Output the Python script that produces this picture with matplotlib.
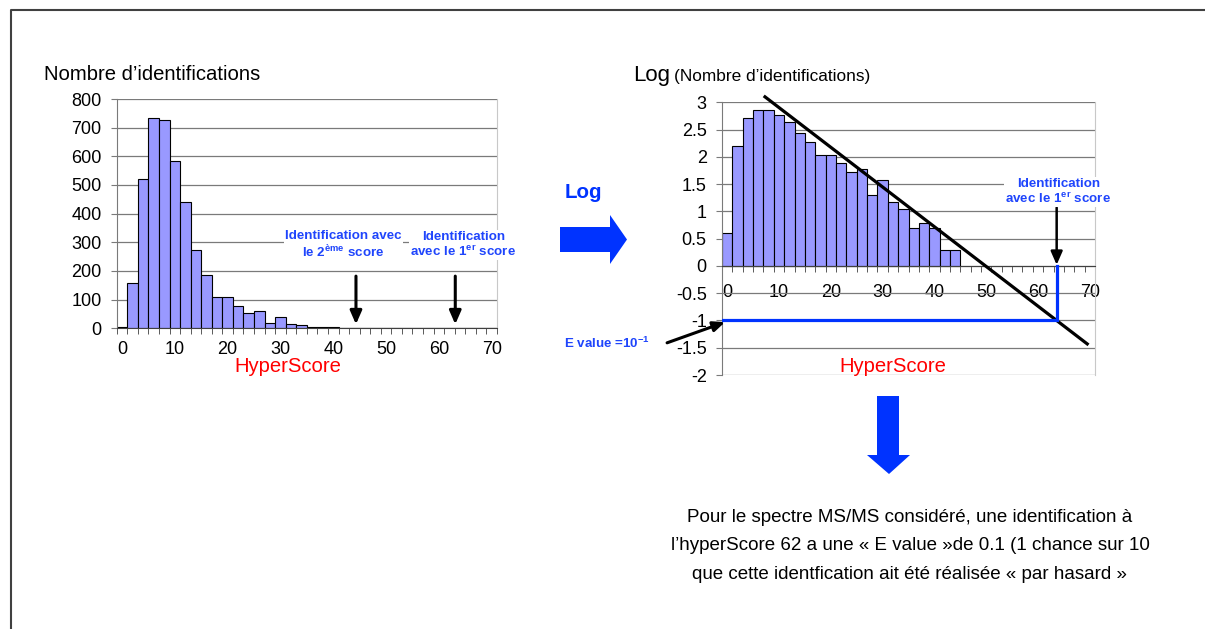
import numpy as np
import matplotlib
matplotlib.use("Agg")
import matplotlib.pyplot as plt
from matplotlib.patches import Polygon

plt.rcParams["font.family"] = ["Liberation Sans", "DejaVu Sans"]
plt.rcParams["mathtext.fontset"] = "custom"
plt.rcParams["mathtext.rm"] = "Liberation Sans"
plt.rcParams["mathtext.bf"] = "Liberation Sans:bold"

# histogram of hyperscores, bins of width 2 (0, 2, ..., 70)
scores = np.arange(0, 72, 2)
counts = [4, 158, 522, 735, 727, 583, 442, 273, 187, 108, 110, 77,
          52, 60, 20, 38, 15, 11, 5, 6, 5, 2, 2, 0,
          0, 0, 0, 0, 0, 0, 0, 0, 0, 0, 0, 0]
score_labels = [0, 10, 20, 30, 40, 50, 60, 70]

# regression line drawn on the log histogram
trend_x = [7.3, 69.5]
trend_y = [3.1, -1.43]
first_score = 63.6      # best hit on the log chart
log_evalue = -1
left_second = 44.3      # arrows on the raw histogram
left_first = 63.1

BAR = "#9999ff"
GRID = "#7a7a7a"
BLUE = "#0033ff"
TXT_BLUE = "#1f45fc"

W, H = 1205, 629
fig = plt.figure(figsize=(W / 100, H / 100), dpi=100)


def fx(px):
    return px / W


def fy(py):
    return 1 - py / H


def box(x0, y0, x1, y1):
    return [fx(x0), fy(y1), (x1 - x0) / W, (y1 - y0) / H]


def style_axes(ax, pad_x):
    ax.set_xlim(-1, 71)
    ax.set_xticks(score_labels)
    ax.set_xticks(np.arange(-1, 72, 2), minor=True)
    ax.tick_params(axis="x", which="major", length=0, pad=pad_x, labelsize=13)
    ax.tick_params(axis="x", which="minor", length=4, color="#404040", direction="out")
    ax.tick_params(axis="y", length=4, color=GRID, pad=7, labelsize=13)
    ax.grid(axis="y", color=GRID, lw=0.9)
    ax.set_axisbelow(True)
    ax.spines["top"].set_visible(False)
    ax.spines["right"].set_color("#c8c8c8")
    ax.spines["left"].set_color(GRID)
    ax.spines["bottom"].set_color("#404040")


def label(ax, x, y, s):
    ax.text(x, y, s, ha="center", va="center", fontsize=9.6, weight="bold",
            color=TXT_BLUE, linespacing=1.1, clip_on=False, zorder=5,
            bbox=dict(facecolor="white", edgecolor="none", pad=1))


# ---- raw counts
ax1 = fig.add_axes(box(116.7, 99, 497, 328.3))
ax1.bar(scores, counts, width=2, color=BAR, edgecolor="black", lw=0.8)
ax1.set_ylim(0, 800)
ax1.set_yticks(range(0, 801, 100))
style_axes(ax1, 9.5)

for x in (left_second, left_first):
    ax1.annotate("", xy=(x, 14), xytext=(x, 182),
                 arrowprops=dict(arrowstyle="-|>,head_width=0.35,head_length=0.8",
                                 color="black", lw=2.2, shrinkA=0, shrinkB=0))
label(ax1, 41.9, 290, "Identification avec\nle 2$^{\\mathbf{ème}}$ score")
label(ax1, 64.6, 290, "Identification\navec le 1$^{\\mathbf{er}}$ score")

# ---- log10 of the counts
ax2 = fig.add_axes(box(722, 102.3, 1095, 375))
pos = np.array(counts) > 0
ax2.bar(scores[pos], np.log10(np.array(counts)[pos]), width=2, color=BAR,
        edgecolor="black", lw=0.8)
ax2.set_ylim(-2, 3)
ax2.set_yticks(np.arange(-2, 3.01, 0.5))
ax2.set_yticklabels(["-2", "-1.5", "-1", "-0.5", "0", "0.5", "1", "1.5", "2", "2.5", "3"])
style_axes(ax2, 13)
ax2.spines["bottom"].set_position(("data", 0))

ax2.plot(trend_x, trend_y, color="black", lw=2.3, clip_on=False, zorder=4)
ax2.plot([-1, first_score, first_score], [log_evalue, log_evalue, 0],
         color=BLUE, lw=2.3, solid_joinstyle="miter", zorder=4)
ax2.annotate("", xy=(first_score, 0.02), xytext=(first_score, 1.07),
             arrowprops=dict(arrowstyle="-|>,head_width=0.35,head_length=0.8",
                             color="black", lw=1.8, shrinkA=0, shrinkB=0))
label(ax2, 63.9, 1.36, "Identification\navec le 1$^{\\mathbf{er}}$ score")
ax2.annotate("", xy=(-0.4, -1.03), xytext=(-11.6, -1.41), annotation_clip=False,
             arrowprops=dict(arrowstyle="-|>,head_width=0.3,head_length=0.7",
                             color="black", lw=2.2, shrinkA=0, shrinkB=0))

# ---- titles and free text
fig.text(fx(44), fy(74), "Nombre d\u2019identifications", fontsize=14.6,
         ha="left", va="center")
fig.text(fx(633), fy(76), "Log", fontsize=16, ha="left", va="center")
fig.text(fx(674), fy(76), "(Nombre d\u2019identifications)", fontsize=12.4,
         ha="left", va="center")
fig.text(fx(287.5), fy(367), "HyperScore", fontsize=14.6, color="red",
         ha="center", va="center")
fig.text(fx(893), fy(367), "HyperScore", fontsize=14.6, color="red",
         ha="center", va="center")
fig.text(fx(583), fy(192), "Log", fontsize=14.8, weight="bold",
         color=BLUE, ha="center", va="center")
fig.text(fx(607), fy(343), "E value =10$^{\\mathbf{-1}}$", fontsize=9.6,
         weight="bold", color=TXT_BLUE, ha="center", va="center")
fig.text(fx(910), fy(546),
         "Pour le spectre MS/MS considéré, une identification à\n"
         "l\u2019hyperScore 62 a une « E value »de 0.1 (1 chance sur 10\n"
         "que cette identfication ait été réalisée « par hasard »",
         fontsize=13.5, ha="center", va="center", linespacing=1.9)

# block arrows (pixel outlines)
right_arrow = [(560, 227), (610, 227), (610, 215), (627, 239.5), (610, 264), (610, 252), (560, 252)]
down_arrow = [(877, 396), (899, 396), (899, 455), (910, 455), (889, 474), (867, 455), (877, 455)]
for pts in (right_arrow, down_arrow):
    fig.add_artist(Polygon([(fx(x), fy(y)) for x, y in pts], closed=True,
                           transform=fig.transFigure, color=BLUE, lw=0))

# outer frame
fig.add_artist(plt.Line2D([fx(11), fx(11), 1], [0, fy(10), fy(10)],
                          transform=fig.transFigure, color="#404040", lw=1.5))

fig.savefig("out.png", dpi=100)
